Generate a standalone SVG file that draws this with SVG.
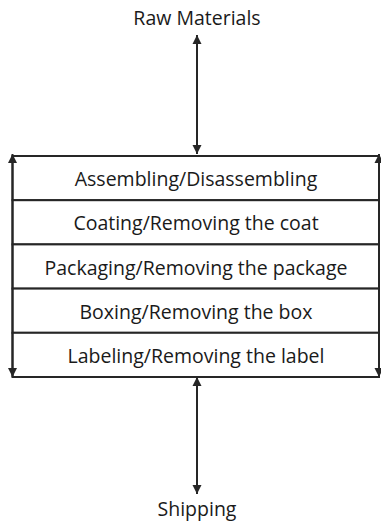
<svg xmlns="http://www.w3.org/2000/svg" width="381" height="521" viewBox="0 0 381 521">
  <style>
    .row { fill: #ffffff; stroke: #262626; stroke-width: 2; }
    .lbl { font-family: "Open Sans", "Noto Sans", "DejaVu Sans", sans-serif; font-size: 19.5px; fill: #1a1a1a; text-anchor: middle; }
    .conn { stroke: #262626; stroke-width: 2; fill: none; marker-start: url(#arr); marker-end: url(#arr); }
  </style>
  <defs>
    <marker id="arr" viewBox="0 0 10 10" refX="10" refY="5" markerWidth="4.6" markerHeight="4.6" orient="auto-start-reverse" markerUnits="strokeWidth">
      <path d="M0,0 L10,5 L0,10 Z" fill="#262626"/>
    </marker>
  </defs>
  <rect width="381" height="521" fill="#ffffff"/>

  <g id="raw-materials">
    <text class="lbl" x="197" y="25">Raw Materials</text>
  </g>

  <g id="assembling">
    <rect class="row" x="12.5" y="156" width="366.5" height="44.2"/>
    <text class="lbl" x="196" y="185.5">Assembling/Disassembling</text>
  </g>
  <g id="coating">
    <rect class="row" x="12.5" y="200.2" width="366.5" height="44.2"/>
    <text class="lbl" x="196" y="230">Coating/Removing the coat</text>
  </g>
  <g id="packaging">
    <rect class="row" x="12.5" y="244.4" width="366.5" height="44.2"/>
    <text class="lbl" x="196" y="274.5">Packaging/Removing the package</text>
  </g>
  <g id="boxing">
    <rect class="row" x="12.5" y="288.6" width="366.5" height="44.2"/>
    <text class="lbl" x="196" y="318.6">Boxing/Removing the box</text>
  </g>
  <g id="labeling">
    <rect class="row" x="12.5" y="332.8" width="366.5" height="44.2"/>
    <text class="lbl" x="196" y="362.8">Labeling/Removing the label</text>
  </g>

  <g id="shipping">
    <text class="lbl" x="197" y="516">Shipping</text>
  </g>

  <g id="connectors">
    <line class="conn" x1="197" y1="35" x2="197" y2="154"/>
    <line class="conn" x1="197" y1="377" x2="197" y2="494"/>
    <line class="conn" x1="12.5" y1="154" x2="12.5" y2="377"/>
    <line class="conn" x1="379" y1="154" x2="379" y2="377"/>
  </g>
</svg>
